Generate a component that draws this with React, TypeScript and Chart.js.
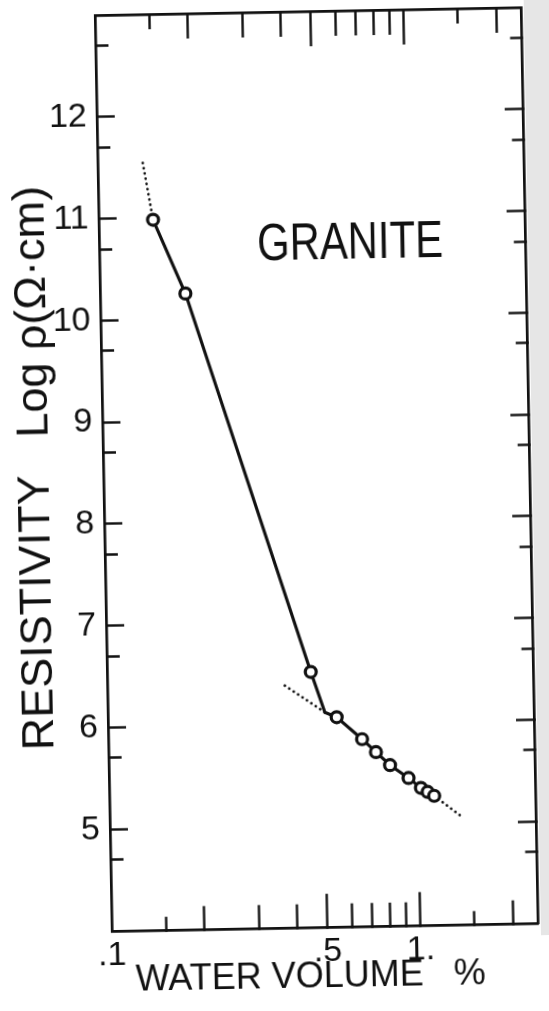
import React, { useEffect, useRef } from 'react';
import { Chart, registerables } from 'chart.js';

Chart.register(...registerables);

// ---------------- data ----------------
const waterVolume = [0.150, 0.189, 0.457, 0.551, 0.664, 0.735, 0.815, 0.934, 1.023, 1.075, 1.128];
const logResistivity = [10.98, 10.25, 6.51, 6.06, 5.84, 5.71, 5.58, 5.45, 5.35, 5.31, 5.27];

// solid fitted line: steep branch and flat branch meeting at the break
const fitVolume = [0.150, 0.189, 0.457, 0.505, 0.551, 0.664, 0.735, 0.815, 0.934, 1.023, 1.075, 1.128];
const fitResistivity = [10.98, 10.25, 6.51, 6.11, 6.06, 5.84, 5.71, 5.58, 5.45, 5.35, 5.31, 5.27];

// dotted extrapolations
const upperExtVolume = [0.140, 0.150];
const upperExtResistivity = [11.54, 10.98];
const lowerLeftExtVolume = [0.376, 0.505];
const lowerLeftExtResistivity = [6.38, 6.11];
const lowerRightExtVolume = [1.128, 1.383];
const lowerRightExtResistivity = [5.27, 5.06];

// axes
const xMin = 0.1;
const xMax = 2.4;
const yMin = 4;
const yMax = 13;
const xTickValues = [0.1, 0.15, 0.2, 0.3, 0.4, 0.5, 0.6, 0.7, 0.8, 0.9, 1, 1.5, 2];
const xTickLabels = ['.1', '', '', '', '', '.5', '', '', '', '', '1.', '', ''];
const yMajorTicks = [5, 6, 7, 8, 9, 10, 11, 12];
const yMinorTicks = [4.7, 5.7, 6.7, 7.7, 8.7, 9.7, 10.7, 11.7, 12.7];
const xTitle = 'WATER VOLUME   %';
const yTitle = 'RESISTIVITY   Log \u03C1(\u03A9\u00B7cm)';
const sampleName = 'GRANITE';
const sampleNameVolume = 0.65;
const sampleNameResistivity = 10.7;

// ---------------- styles ----------------
const INK = '#111111';
const SANS = "'Liberation Sans', Arial, sans-serif";
const AXIS_W = 2.7;
const TICK_W = 2.4;
const X_TICK_FULL = 35;
const Y_TICK_FULL = 18;
const Y_TICK_MINOR = 13;

const near = (a: number, b: number) => Math.abs(a - b) < 1e-6;
const xIndex = (v: number) => xTickValues.findIndex((t) => near(t, v));
const xTickLen = (v: number) => {
  if (near(v, 0.1)) return 0;
  if (near(v, 0.5) || near(v, 1)) return 35;
  if (near(v, 0.15) || near(v, 1.5)) return 15;
  return 25;
};
const isMajorY = (v: number) => yMajorTicks.some((t) => near(t, v));
const yTickValues = [...yMajorTicks, ...yMinorTicks].sort((a, b) => a - b);

const zip = (xs: number[], ys: number[]) => xs.map((x, i) => ({ x, y: ys[i] }));

const noPadV = (s: any) => {
  s.paddingTop = 0;
  s.paddingBottom = 0;
};
const noPadH = (s: any) => {
  s.paddingLeft = 0;
  s.paddingRight = 0;
};

const labelPlugin = {
  id: 'sampleName',
  afterDatasetsDraw(chart: any) {
    const { ctx, scales } = chart;
    const px = scales.x.getPixelForValue(sampleNameVolume);
    const py = scales.y.getPixelForValue(sampleNameResistivity);
    ctx.save();
    ctx.translate(px, py);
    ctx.scale(0.82, 1);
    ctx.font = `51px ${SANS}`;
    ctx.fillStyle = INK;
    ctx.textAlign = 'center';
    ctx.textBaseline = 'middle';
    ctx.fillText(sampleName, 0, 0);
    ctx.restore();
  },
};

export default function App() {
  const ref = useRef<HTMLCanvasElement>(null);

  useEffect(() => {
    document.body.style.margin = '0';
    const canvas = ref.current;
    if (!canvas) return;

    const dotted = {
      showLine: true,
      borderColor: INK,
      borderWidth: 2.7,
      borderDash: [0.1, 5.2],
      borderCapStyle: 'round',
      pointRadius: 0,
      pointHoverRadius: 0,
      fill: false,
    };

    const chart = new Chart(canvas, {
      type: 'scatter',
      data: {
        datasets: [
          {
            label: 'Granite',
            data: zip(waterVolume, logResistivity),
            showLine: false,
            pointStyle: 'circle',
            pointRadius: 5.5,
            pointBorderWidth: 3.2,
            pointBackgroundColor: '#ffffff',
            pointBorderColor: INK,
          },
          {
            label: 'fit',
            data: zip(fitVolume, fitResistivity),
            showLine: true,
            borderColor: INK,
            borderWidth: 3.1,
            pointRadius: 0,
            pointHoverRadius: 0,
            tension: 0,
          },
          { label: 'ext1', data: zip(upperExtVolume, upperExtResistivity), ...dotted },
          { label: 'ext2', data: zip(lowerLeftExtVolume, lowerLeftExtResistivity), ...dotted },
          { label: 'ext3', data: zip(lowerRightExtVolume, lowerRightExtResistivity), ...dotted },
        ] as any,
      },
      options: {
        responsive: false,
        animation: false,
        devicePixelRatio: 1,
        events: [],
        layout: { padding: 0 },
        plugins: {
          legend: { display: false },
          tooltip: { enabled: false },
          title: { display: false },
        },
        scales: {
          x: {
            type: 'logarithmic',
            position: 'bottom',
            min: xMin,
            max: xMax,
            bounds: 'data',
            afterBuildTicks: (s: any) => {
              s.ticks = xTickValues.map((v) => ({ value: v }));
            },
            afterFit: (s: any) => {
              s.height = 83;
              noPadH(s);
            },
            border: { display: true, color: INK, width: AXIS_W },
            grid: {
              display: true,
              drawOnChartArea: false,
              drawTicks: true,
              tickLength: -X_TICK_FULL,
              tickWidth: TICK_W,
              tickColor: INK,
              tickBorderDash: (c: any) => (c.tick ? [xTickLen(c.tick.value), 1000] : []),
            },
            ticks: {
              autoSkip: false,
              maxRotation: 0,
              minRotation: 0,
              padding: 39,
              color: INK,
              font: { family: SANS, size: 34 },
              callback: (v: any) => {
                const i = xIndex(Number(v));
                return i >= 0 ? xTickLabels[i] : '';
              },
            },
            title: {
              display: true,
              text: xTitle + '   ',
              color: INK,
              font: { family: SANS, size: 36 },
              padding: { top: 0, bottom: 11 },
            },
          },
          x2: {
            type: 'logarithmic',
            position: 'top',
            min: xMin,
            max: xMax,
            bounds: 'data',
            afterBuildTicks: (s: any) => {
              s.ticks = xTickValues.map((v) => ({ value: v }));
            },
            afterFit: (s: any) => {
              s.height = 12;
              noPadH(s);
            },
            border: { display: true, color: INK, width: AXIS_W },
            grid: {
              display: true,
              drawOnChartArea: false,
              drawTicks: true,
              tickLength: -X_TICK_FULL,
              tickWidth: TICK_W,
              tickColor: INK,
              tickBorderDash: (c: any) => {
                if (!c.tick) return [];
                const L = xTickLen(c.tick.value);
                return [0, X_TICK_FULL - L, L, 1000];
              },
            },
            ticks: { display: false, autoSkip: false },
          },
          y: {
            type: 'linear',
            position: 'left',
            min: yMin,
            max: yMax,
            bounds: 'data',
            afterBuildTicks: (s: any) => {
              s.ticks = yTickValues.map((v) => ({ value: v }));
            },
            afterFit: (s: any) => {
              s.width = 104;
              noPadV(s);
            },
            border: { display: true, color: INK, width: AXIS_W },
            grid: {
              display: true,
              drawOnChartArea: false,
              drawTicks: true,
              tickLength: -Y_TICK_FULL,
              tickWidth: TICK_W,
              tickColor: INK,
              tickBorderDash: (c: any) =>
                !c.tick || isMajorY(c.tick.value)
                  ? []
                  : [0, Y_TICK_FULL - Y_TICK_MINOR, Y_TICK_MINOR, 1000],
            },
            ticks: {
              autoSkip: false,
              padding: 28,
              color: INK,
              font: { family: SANS, size: 34 },
              callback: (v: any) => (isMajorY(Number(v)) ? String(Math.round(Number(v))) : ''),
            },
            title: {
              display: true,
              text: ' ' + yTitle,
              color: INK,
              font: { family: SANS, size: 45 },
              padding: { top: 10, bottom: 0 },
            },
          },
          y2: {
            type: 'linear',
            position: 'right',
            min: yMin,
            max: yMax,
            bounds: 'data',
            afterBuildTicks: (s: any) => {
              s.ticks = yTickValues.map((v) => ({ value: v }));
            },
            afterFit: (s: any) => {
              s.width = 19;
              noPadV(s);
            },
            border: { display: true, color: INK, width: AXIS_W },
            grid: {
              display: true,
              drawOnChartArea: false,
              drawTicks: true,
              tickLength: -Y_TICK_FULL,
              tickWidth: TICK_W,
              tickColor: INK,
              tickBorderDash: (c: any) =>
                !c.tick || isMajorY(c.tick.value) ? [] : [Y_TICK_MINOR, 1000],
            },
            ticks: { display: false, autoSkip: false },
          },
        },
      } as any,
      plugins: [labelPlugin],
    });

    return () => chart.destroy();
  }, []);

  return (
    <div style={{ width: 549, height: 1011, position: 'relative', overflow: 'hidden', background: '#ffffff' }}>
      <div
        style={{
          position: 'absolute',
          left: 0,
          top: 0,
          width: 549,
          height: 1011,
          transform: 'rotate(-1.06deg)',
          transformOrigin: '50% 50%',
        }}
      >
        <div style={{ position: 'absolute', left: 533, top: -20, width: 40, height: 960, background: '#e6e6e6' }} />
        <canvas ref={ref} width={549} height={1011} style={{ position: 'absolute', left: 0, top: 0, display: 'block' }} />
      </div>
    </div>
  );
}
